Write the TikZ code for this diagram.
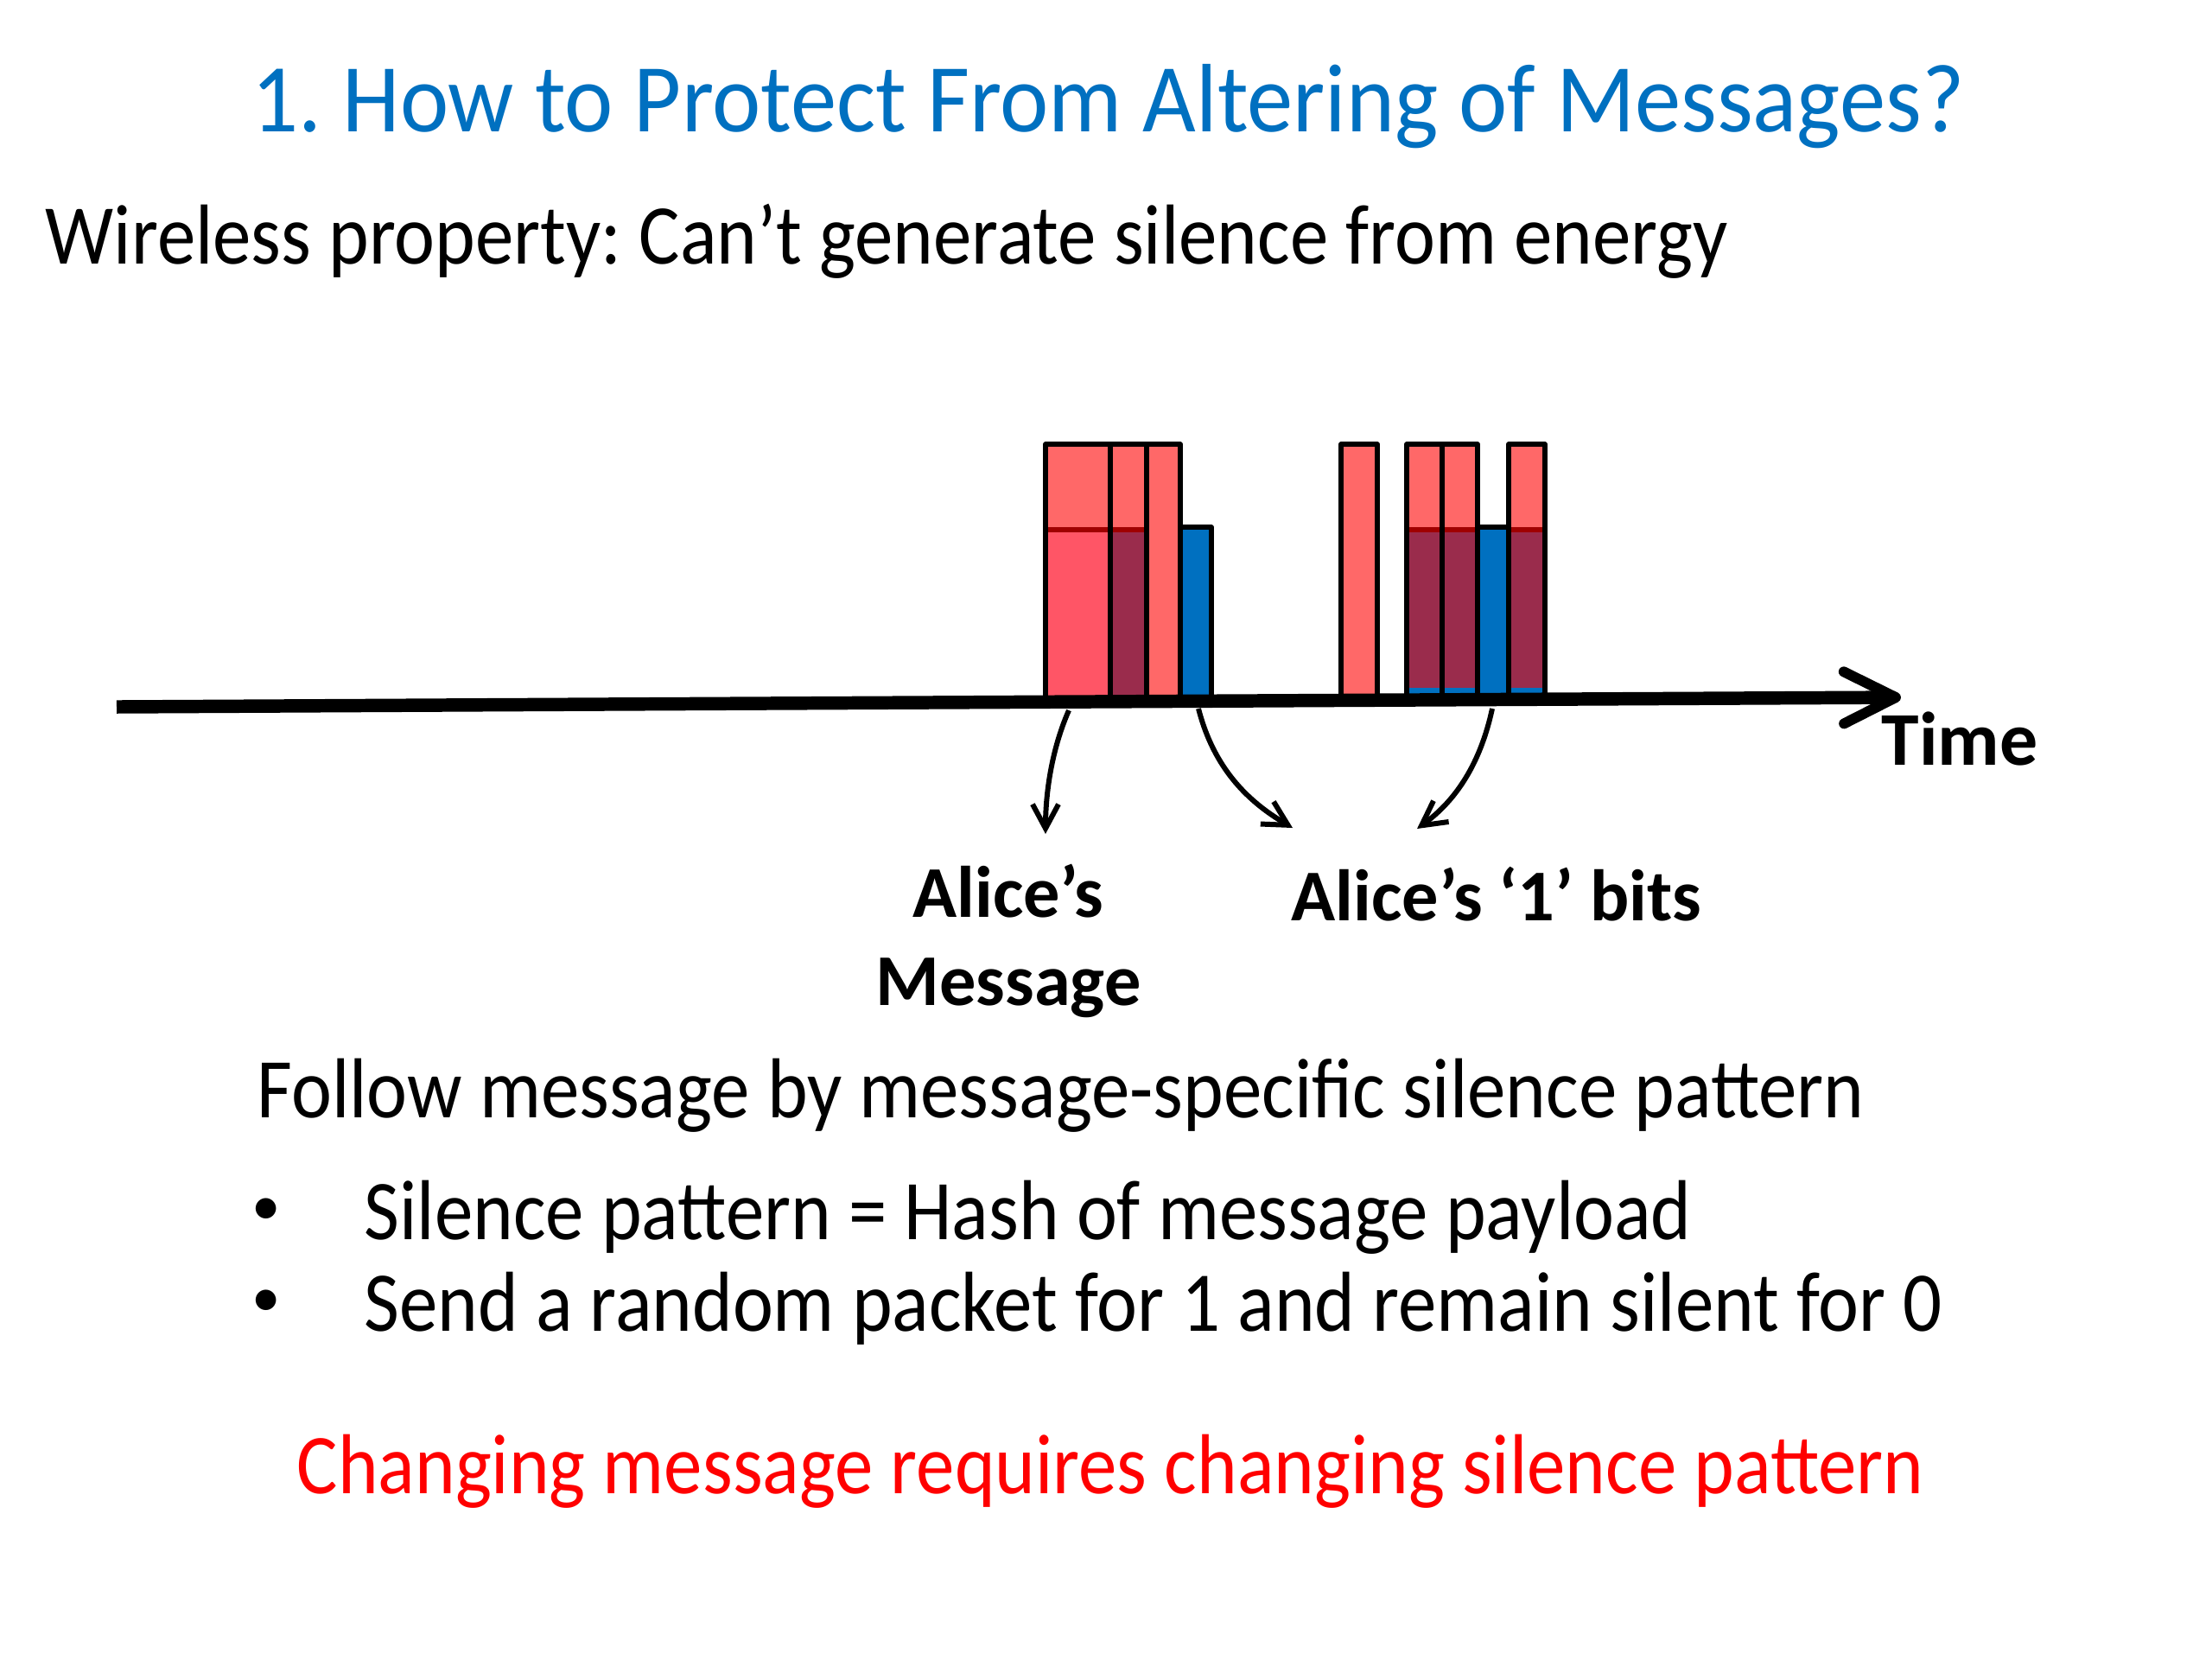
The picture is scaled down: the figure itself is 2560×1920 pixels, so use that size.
\documentclass[tikz,border=0pt]{standalone}
\usepackage{fontspec}
\setmainfont{Carlito}
\newfontfamily\bodyfont{Carlito}[FakeStretch=0.903]
\newfontfamily\titlefont{Carlito}[FakeStretch=0.947]
\usetikzlibrary{arrows.meta}
\definecolor{ttlblue}{HTML}{0070C0}
\definecolor{msgred}{HTML}{FF0000}
\definecolor{lightred}{HTML}{FF6868}
\definecolor{pinkred}{HTML}{FF5566}
\definecolor{maroon}{HTML}{9A2C4C}
\definecolor{bitblue}{HTML}{0070C0}
\definecolor{darkline}{HTML}{A00000}
\frenchspacing
\begin{document}
\begin{tikzpicture}[x=0.01cm,y=-0.01cm,
  frame/.style={draw=black,line width=1.45pt,line join=round},
  sep/.style={draw=darkline,line width=1.6pt},
  txt/.style={anchor=base west,inner sep=0pt},
  body/.style={txt,font=\bodyfont\fontsize{28}{34}\selectfont},
  bul/.style={anchor=center,inner sep=0pt,font=\fontsize{19}{22}\selectfont},
  callout/.style={draw=black,line width=1.7pt,-{Straight Barb[length=0.28cm,width=0.3cm,line width=1.7pt]}},
  lbl/.style={anchor=base,inner sep=0pt,font=\fontsize{24}{29}\selectfont\bfseries}]
\useasboundingbox (0,0) rectangle (2560,1920);
\fill[white] (0,0) rectangle (2560,1920);

% title and texts
\node[txt,text=ttlblue,font=\titlefont\fontsize{32}{38}\selectfont] (title) at (291,152) {1. How to Protect From Altering of Messages?};
\node[body] (prop) at (52,305) {Wireless property: Can’t generate silence from energy};
\node[body] (follow) at (297,1293) {Follow message by message-specific silence pattern};
\node[bul] (b1) at (308,1402) {•};
\node[body] (t1) at (421,1434) {Silence pattern = Hash of message payload};
\node[bul] (b2) at (308,1508) {•};
\node[body] (t2) at (421,1540) {Send a random packet for 1 and remain silent for 0};
\node[body,text=msgred] (concl) at (343,1728) {Changing message requires changing silence pattern};

% bars group 1
\fill[lightred] (1210,514) rectangle (1285,610);
\fill[pinkred] (1210,613) rectangle (1285,815);
\fill[lightred] (1285,514) rectangle (1327,610);
\fill[maroon] (1285,613) rectangle (1327,815);
\draw[sep] (1210,613) -- (1327,613);
\fill[lightred] (1327,514) rectangle (1366,815);
\fill[bitblue] (1366,610) rectangle (1402,815);
\draw[frame] (1210,815) -- (1210,514) -- (1366,514) -- (1366,815);
\draw[frame] (1285,514) -- (1285,815);
\draw[frame] (1327,514) -- (1327,815);
\draw[frame] (1366,610) -- (1402,610) -- (1402,815);

% bars group 2
\fill[lightred] (1552,514) rectangle (1594,815);
\draw[frame] (1552,815) -- (1552,514) -- (1594,514) -- (1594,815);
\foreach \xa/\xb in {1628/1669,1669/1710,1746/1788}{
  \fill[lightred] (\xa,514) rectangle (\xb,610);
  \fill[maroon] (\xa,613) rectangle (\xb,796);
  \fill[bitblue] (\xa,796) rectangle (\xb,815);
  \draw[sep] (\xa,613) -- (\xb,613);
}
\fill[bitblue] (1710,610) rectangle (1746,815);
\draw[frame] (1628,815) -- (1628,514) -- (1710,514) -- (1710,815);
\draw[frame] (1669,514) -- (1669,815);
\draw[frame] (1710,610) -- (1746,610);
\draw[frame] (1746,815) -- (1746,514) -- (1788,514) -- (1788,815);

% time axis
\coordinate (axs) at (135,818);
\coordinate (axe) at (2200,807);
\draw[line width=4.4pt,-{Straight Barb[length=0.6cm,width=0.6cm,line width=3.4pt,round]}] (axs) -- (axe);
\node[txt,font=\fontsize{25}{30}\selectfont\bfseries] (time) at (2177,885) {Time};

% labels
\node[lbl] (alice1) at (1167,1061) {Alice’s};
\node[lbl] (alice2) at (1167,1163) {Message};
\node[txt,font=\fontsize{24}{29}\selectfont\bfseries] (bits) at (1494,1065) {Alice’s ‘1’ bits};

% callout arrows
\coordinate (s1) at (1237,822);
\coordinate (e1) at (1210,965);
\coordinate (s2) at (1387,820);
\coordinate (e2) at (1496,958);
\coordinate (s3) at (1727,820);
\coordinate (e3) at (1640,959);
\draw[callout] (s1) .. controls (1218,865) and (1210,915) .. (e1);
\draw[callout] (s2) .. controls (1405,890) and (1445,928) .. (e2);
\draw[callout] (s3) .. controls (1712,890) and (1680,930) .. (e3);
\end{tikzpicture}
\end{document}
